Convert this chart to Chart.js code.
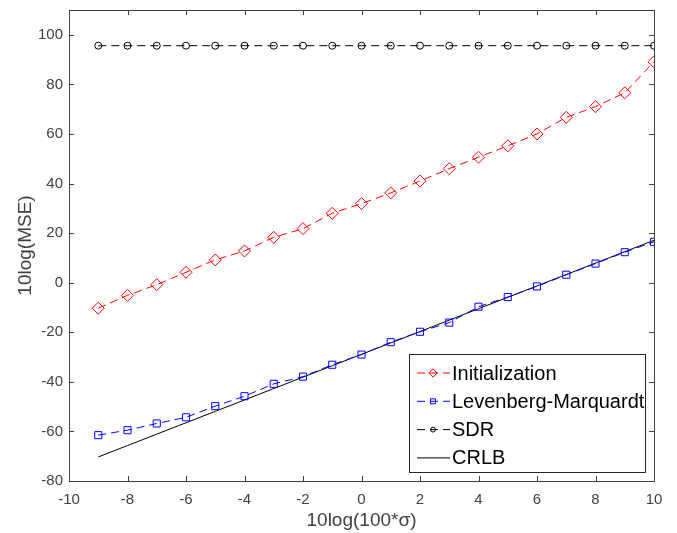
<!DOCTYPE html>
<html>
<head>
<meta charset="utf-8">
<script src="https://cdn.jsdelivr.net/npm/chart.js@4.4.0/dist/chart.umd.min.js"></script>
<style>
  body { margin: 0; background: #fff; }
</style>
</head>
<body>
<canvas id="mseChart" width="677" height="533"></canvas>
<script>
// data
var xVals = [-9, -8, -7, -6, -5, -4, -3, -2, -1, 0, 1, 2, 3, 4, 5, 6, 7, 8, 9, 10];
var initVals = [-10.3, -5.1, -0.8, 4.2, 9.2, 12.8, 18.3, 21.8, 28.0, 31.9, 36.2, 41.0, 46.0, 50.6, 55.2, 60.0, 66.7, 71.0, 76.6, 89.1];
var lmVals = [-61.5, -59.5, -56.8, -54.3, -49.8, -45.8, -40.8, -37.9, -33.1, -29.0, -24.0, -19.8, -16.1, -9.7, -5.8, -1.5, 3.2, 7.7, 12.3, 16.5];
var sdrVals = [95.6, 95.6, 95.6, 95.6, 95.6, 95.6, 95.6, 95.6, 95.6, 95.6, 95.6, 95.6, 95.6, 95.6, 95.6, 95.6, 95.6, 95.6, 95.6, 95.6];
var crlbVals = [-70.3, -65.7, -61.1, -56.5, -51.9, -47.3, -42.7, -38.1, -33.5, -28.9, -24.3, -19.7, -15.1, -10.5, -5.9, -1.3, 3.3, 7.9, 12.5, 17.1];
var xTicks = [-10, -8, -6, -4, -2, 0, 2, 4, 6, 8, 10];
var yTicks = [-80, -60, -40, -20, 0, 20, 40, 60, 80, 100];

var axisColor = '#404040';
var fontFam = '"Liberation Sans", Arial, sans-serif';

function pts(ys) {
  return xVals.map(function (x, i) { return { x: x, y: ys[i] }; });
}

// box, inward ticks and the legend inside the axes (matlab style)
var matlabBox = {
  id: 'matlabBox',
  afterDraw: function (chart) {
    var ctx = chart.ctx, a = chart.chartArea;
    var xs = chart.scales.x, ys = chart.scales.y;
    ctx.save();
    ctx.strokeStyle = axisColor;
    ctx.lineWidth = 1;
    ctx.strokeRect(a.left + 0.5, a.top + 0.5, a.right - a.left, a.bottom - a.top);
    ctx.beginPath();
    xTicks.forEach(function (v) {
      var px = Math.round(xs.getPixelForValue(v)) + 0.5;
      ctx.moveTo(px, a.bottom); ctx.lineTo(px, a.bottom - 5);
      ctx.moveTo(px, a.top); ctx.lineTo(px, a.top + 5);
    });
    yTicks.forEach(function (v) {
      var py = Math.round(ys.getPixelForValue(v)) + 0.5;
      ctx.moveTo(a.left, py); ctx.lineTo(a.left + 5, py);
      ctx.moveTo(a.right, py); ctx.lineTo(a.right - 5, py);
    });
    ctx.stroke();

    // legend
    var lx = 409, ly = 354, lw = 236, lh = 118;
    ctx.fillStyle = '#fff';
    ctx.fillRect(lx, ly, lw, lh);
    ctx.strokeStyle = '#262626';
    ctx.strokeRect(lx + 0.5, ly + 0.5, lw, lh);
    ctx.font = '20px ' + fontFam;
    ctx.textBaseline = 'middle';
    chart.data.datasets.forEach(function (ds, i) {
      var y = 373 + i * 28.3;
      ctx.strokeStyle = ds.borderColor;
      ctx.lineWidth = 1;
      ctx.setLineDash(ds.borderDash || []);
      ctx.beginPath();
      ctx.moveTo(417, y); ctx.lineTo(450, y);
      ctx.stroke();
      ctx.setLineDash([]);
      if (ds.pointRadius > 0) {
        ctx.fillStyle = 'rgba(0,0,0,0)';
        Chart.helpers.drawPoint(ctx, {
          pointStyle: ds.pointStyle, radius: ds.pointRadius * 0.7, borderWidth: 1
        }, 433, y);
      }
      ctx.fillStyle = '#000';
      ctx.fillText(ds.label, 452, y + 1);
    });
    ctx.restore();
  }
};

var mseChart = new Chart(document.getElementById('mseChart').getContext('2d'), {
  type: 'line',
  data: {
    datasets: [
      {
        label: 'Initialization',
        data: pts(initVals),
        borderColor: '#ff0000',
        borderWidth: 1,
        borderDash: [8, 5],
        pointStyle: 'rectRot',
        pointRadius: 6,
        pointBorderColor: '#ff0000',
        pointBackgroundColor: 'rgba(0,0,0,0)',
        pointBorderWidth: 1
      },
      {
        label: 'Levenberg-Marquardt',
        data: pts(lmVals),
        borderColor: '#0000ff',
        borderWidth: 1,
        borderDash: [8, 5],
        pointStyle: 'rect',
        pointRadius: 5,
        pointBorderColor: '#0000ff',
        pointBackgroundColor: 'rgba(0,0,0,0)',
        pointBorderWidth: 1
      },
      {
        label: 'SDR',
        data: pts(sdrVals),
        borderColor: '#000000',
        borderWidth: 1,
        borderDash: [8, 5],
        pointStyle: 'circle',
        pointRadius: 3.5,
        pointBorderColor: '#000000',
        pointBackgroundColor: 'rgba(0,0,0,0)',
        pointBorderWidth: 1
      },
      {
        label: 'CRLB',
        data: pts(crlbVals),
        borderColor: '#000000',
        borderWidth: 1,
        pointRadius: 0
      }
    ]
  },
  options: {
    responsive: false,
    animation: false,
    events: [],
    layout: { padding: { left: 0, top: 10, right: 23, bottom: 0 } },
    plugins: {
      legend: { display: false },
      tooltip: { enabled: false }
    },
    scales: {
      x: {
        type: 'linear',
        min: -10,
        max: 10,
        afterFit: function (s) {
          s.height = 52;
          s.paddingLeft = 0; s.paddingRight = 0;
        },
        afterBuildTicks: function (s) { s.ticks = xTicks.map(function (v) { return { value: v }; }); },
        grid: { display: false, drawTicks: false },
        border: { display: false },
        ticks: { padding: 10, color: axisColor, font: { size: 15, family: fontFam } },
        title: {
          display: true,
          text: '10log(100*σ)',
          color: axisColor,
          font: { size: 19, family: fontFam },
          padding: { top: 0, bottom: 1 }
        }
      },
      y: {
        type: 'linear',
        min: -80,
        max: 110,
        afterFit: function (s) {
          s.width = 69;
          s.paddingTop = 0; s.paddingBottom = 0;
        },
        afterBuildTicks: function (s) { s.ticks = yTicks.map(function (v) { return { value: v }; }); },
        grid: { display: false, drawTicks: false },
        border: { display: false },
        ticks: { padding: 6, color: axisColor, font: { size: 15, family: fontFam } },
        title: {
          display: true,
          text: '10log(MSE)',
          color: axisColor,
          font: { size: 19, family: fontFam },
          padding: { top: 14, bottom: 0 }
        }
      }
    }
  },
  plugins: [matlabBox]
});
</script>
</body>
</html>
